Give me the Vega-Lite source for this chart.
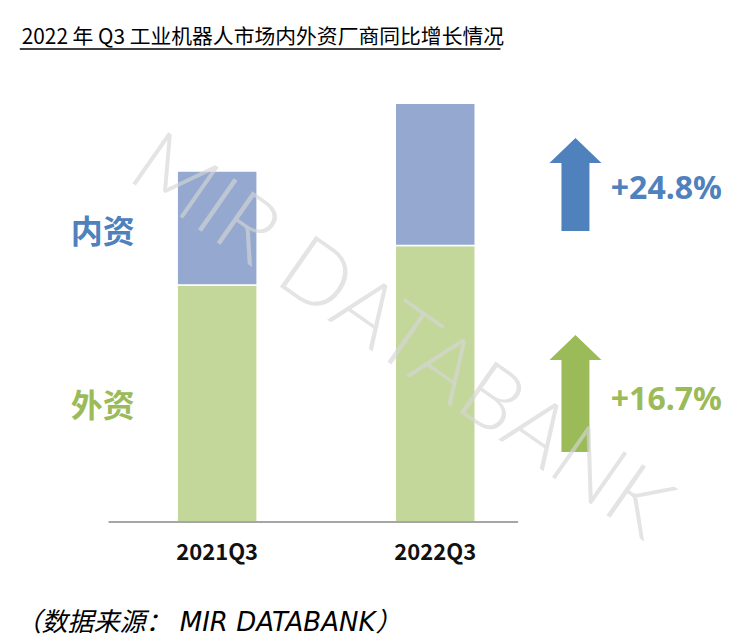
{
  "$schema": "https://vega.github.io/schema/vega-lite/v6.json",
  "width": 755,
  "height": 643,
  "autosize": {"type": "none"},
  "padding": 0,
  "background": "white",
  "config": {"view": {"stroke": null}},
  "data": {"values": [{}]},
  "datasets": {
    "bars": [
      {"quarter": "2021Q3", "year": 2021, "type": "外资", "value": 100},
      {"quarter": "2021Q3", "year": 2021, "type": "内资", "value": 48.1},
      {"quarter": "2022Q3", "year": 2022, "type": "外资", "value": 116.7},
      {"quarter": "2022Q3", "year": 2022, "type": "内资", "value": 60.03}
    ]
  },
  "layer": [
    {
      "data": {"name": "bars"},
      "mark": {"type": "bar", "size": 80, "stroke": "white", "strokeWidth": 1.5},
      "encoding": {
        "x": {"field": "year", "type": "quantitative", "axis": null,
              "scale": {"domain": [2020.0271, 2023.4434], "nice": false, "zero": false}},
        "y": {"field": "value", "type": "quantitative", "axis": null, "stack": "zero",
              "scale": {"domain": [-51.05, 220.25], "nice": false, "zero": false}},
        "color": {"field": "type", "type": "nominal", "legend": null,
                  "scale": {"domain": ["外资", "内资"], "range": ["#c4d79b", "#95a9d0"]}},
        "order": {"field": "type", "sort": "descending"}
      }
    },
    {
      "data": {"values": [{"x1": 2020.502, "x2": 2022.38, "y": 0}]},
      "mark": {"type": "rule", "color": "#a6a6a6", "strokeWidth": 2},
      "encoding": {
        "x": {"field": "x1", "type": "quantitative"},
        "x2": {"field": "x2"},
        "y": {"field": "y", "type": "quantitative"}
      }
    },
    {
      "data": {"name": "bars"},
      "transform": [{"filter": "datum.type === '外资'"}],
      "mark": {"type": "text", "font": "Noto Sans CJK SC", "fontWeight": "bold", "fontSize": 22, "baseline": "middle", "align": "center", "color": "#111111"},
      "encoding": {
        "x": {"field": "year", "type": "quantitative"},
        "y": {"datum": -13.1, "type": "quantitative"},
        "text": {"field": "quarter"}
      }
    },
    {
      "mark": {"type": "text", "font": "Noto Sans CJK SC", "fontWeight": "bold", "fontSize": 32, "baseline": "middle", "align": "center", "color": "#4f81bd"},
      "encoding": {
        "x": {"datum": 2020.475, "type": "quantitative"},
        "y": {"datum": 121.9, "type": "quantitative"},
        "text": {"value": "内资"}
      }
    },
    {
      "mark": {"type": "text", "font": "Noto Sans CJK SC", "fontWeight": "bold", "fontSize": 32, "baseline": "middle", "align": "center", "color": "#9bbb59"},
      "encoding": {
        "x": {"datum": 2020.475, "type": "quantitative"},
        "y": {"datum": 48.5, "type": "quantitative"},
        "text": {"value": "外资"}
      }
    },
    {
      "mark": {"type": "point", "filled": true, "opacity": 1, "color": "#4f81bd", "size": 8649,
               "shape": "M0,-1L0.559,-0.462L0.301,-0.462L0.301,1L-0.301,1L-0.301,-0.462L-0.559,-0.462Z"},
      "encoding": {
        "x": {"datum": 2022.643, "type": "quantitative"},
        "y": {"datum": 142.4, "type": "quantitative"}
      }
    },
    {
      "mark": {"type": "point", "filled": true, "opacity": 1, "color": "#9bbb59", "size": 13689,
               "shape": "M0,-1L0.444,-0.573L0.239,-0.573L0.239,1L-0.239,1L-0.239,-0.573L-0.444,-0.573Z"},
      "encoding": {
        "x": {"datum": 2022.643, "type": "quantitative"},
        "y": {"datum": 54.2, "type": "quantitative"}
      }
    },
    {
      "mark": {"type": "text", "font": "Noto Sans", "fontWeight": "bold", "fontSize": 32, "baseline": "middle", "align": "left", "color": "#4f81bd"},
      "encoding": {
        "x": {"datum": 2022.805, "type": "quantitative"},
        "y": {"datum": 140.5, "type": "quantitative"},
        "text": {"value": "+24.8%"}
      }
    },
    {
      "mark": {"type": "text", "font": "Noto Sans", "fontWeight": "bold", "fontSize": 32, "baseline": "middle", "align": "left", "color": "#9bbb59"},
      "encoding": {
        "x": {"datum": 2022.805, "type": "quantitative"},
        "y": {"datum": 51.5, "type": "quantitative"},
        "text": {"value": "+16.7%"}
      }
    },
    {
      "mark": {"type": "text", "font": "Noto Sans CJK SC", "fontSize": 20.8, "baseline": "alphabetic", "align": "left", "color": "#000000"},
      "encoding": {
        "x": {"datum": 2020.104, "type": "quantitative"},
        "y": {"datum": 201.7, "type": "quantitative"},
        "text": {"value": "2022 年 Q3 工业机器人市场内外资厂商同比增长情况"}
      }
    },
    {
      "data": {"values": [{"x1": 2020.095, "x2": 2022.299, "y": 199.6}]},
      "mark": {"type": "rule", "color": "#000000", "strokeWidth": 1.5},
      "encoding": {
        "x": {"field": "x1", "type": "quantitative"},
        "x2": {"field": "x2"},
        "y": {"field": "y", "type": "quantitative"}
      }
    },
    {
      "mark": {"type": "text", "font": "'DejaVu Sans', 'Noto Sans CJK SC'", "fontSize": 26, "fontStyle": "italic", "baseline": "middle", "align": "left", "color": "#000000"},
      "encoding": {
        "x": {"datum": 2020.075, "type": "quantitative"},
        "y": {"datum": -42.6, "type": "quantitative"},
        "text": {"value": "（数据来源： MIR DATABANK）"}
      }
    },
    {
      "mark": {"type": "text", "font": "Lato", "fontWeight": 300, "fontSize": 88, "baseline": "alphabetic", "align": "center", "angle": 35, "color": "#d6d6d6", "opacity": 0.65},
      "encoding": {
        "x": {"datum": 2021.769, "type": "quantitative"},
        "y": {"datum": 68.35, "type": "quantitative"},
        "text": {"value": "MIR DATABANK"}
      }
    }
  ]
}
